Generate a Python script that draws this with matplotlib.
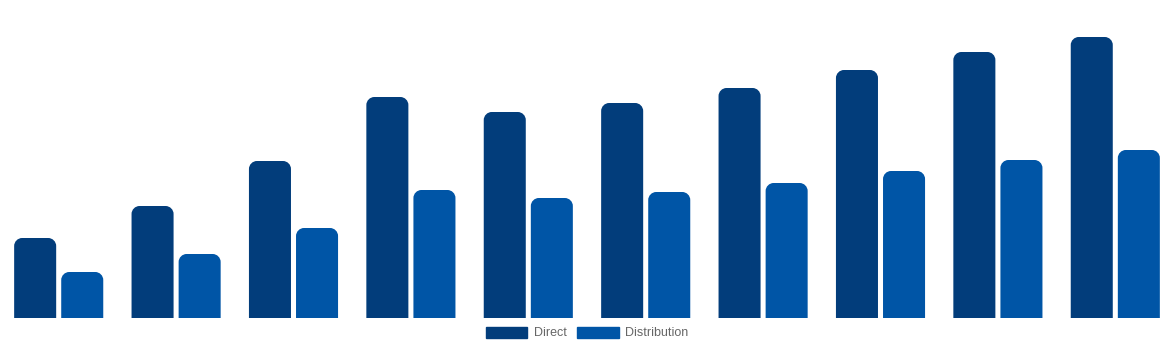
import matplotlib
matplotlib.use("Agg")
import matplotlib.pyplot as plt
import numpy as np
from matplotlib.path import Path
from matplotlib.patches import PathPatch, Patch

plt.rcParams["font.family"] = ["Liberation Sans", "DejaVu Sans"]

# valores (altura relativa)
groups = list(range(1, 11))
direct = [80, 112, 157, 221, 206, 215, 230, 248, 266, 281]
distribution = [46, 64, 90, 128, 120, 126, 135, 147, 158, 168]

c_direct = "#023d7b"
c_dist = "#0055a6"

W, H = 11.74, 3.5
fig = plt.figure(figsize=(W, H), dpi=100)
ax = fig.add_axes([0, 32 / 350, 1, 318 / 350])

x = np.arange(len(groups))
bw = 0.358
gap = 0.043
b1 = ax.bar(x - (bw + gap) / 2, direct, bw, color=c_direct)
b2 = ax.bar(x + (bw + gap) / 2, distribution, bw, color=c_dist)

ax.set_xlim(-0.5, len(groups) - 0.5)
ax.set_ylim(0, 318)
ax.axis("off")


def rounded(rect, r_px=8):
    # troca o retângulo por um com cantos de cima arredondados
    x0, y0 = rect.get_x(), rect.get_y()
    w, h = rect.get_width(), rect.get_height()
    px_x = W * 100 / (ax.get_xlim()[1] - ax.get_xlim()[0])
    px_y = 318 / (ax.get_ylim()[1] - ax.get_ylim()[0])
    rx, ry = r_px / px_x, r_px / px_y
    k = 0.55
    verts = [
        (x0, y0), (x0, y0 + h - ry),
        (x0, y0 + h - ry + k * ry), (x0 + rx - k * rx, y0 + h), (x0 + rx, y0 + h),
        (x0 + w - rx, y0 + h),
        (x0 + w - rx + k * rx, y0 + h), (x0 + w, y0 + h - ry + k * ry), (x0 + w, y0 + h - ry),
        (x0 + w, y0), (x0, y0),
    ]
    codes = [Path.MOVETO, Path.LINETO,
             Path.CURVE4, Path.CURVE4, Path.CURVE4,
             Path.LINETO,
             Path.CURVE4, Path.CURVE4, Path.CURVE4,
             Path.LINETO, Path.CLOSEPOLY]
    p = PathPatch(Path(verts, codes), facecolor=rect.get_facecolor(), edgecolor="none")
    rect.remove()
    ax.add_patch(p)


for r in list(b1) + list(b2):
    rounded(r)

handles = [Patch(color=c_direct), Patch(color=c_dist)]
fig.legend(handles, ["Direct", "Distribution"], loc="center",
           bbox_to_anchor=(0.5, 1 - 333 / 350), ncol=2, frameon=False,
           fontsize=9, labelcolor="#666666", handlelength=3.35, handleheight=1.0,
           handletextpad=0.5, columnspacing=0.85, borderpad=0)

fig.savefig("out.png", dpi=100)
